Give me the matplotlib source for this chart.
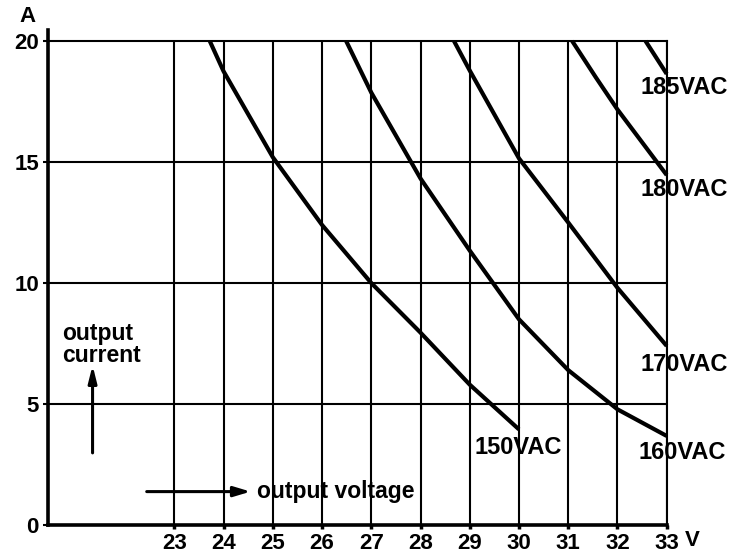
import matplotlib
matplotlib.use("Agg")
import matplotlib.pyplot as plt

plt.rcParams['font.family'] = ['Liberation Sans', 'DejaVu Sans']
plt.rcParams['font.weight'] = 'bold'

# Data (output voltage V -> output current A)
v150 = [23.72, 24.0, 25.0, 26.0, 27.0, 28.0, 29.0, 30.0]
a150 = [20.0, 18.75, 15.2, 12.4, 10.0, 7.95, 5.8, 3.95]

v160 = [26.49, 27.0, 28.0, 29.0, 30.0, 31.0, 32.0, 33.0]
a160 = [20.0, 17.87, 14.32, 11.34, 8.5, 6.4, 4.78, 3.68]

v170 = [28.68, 29.0, 30.0, 31.0, 32.0, 33.0]
a170 = [20.0, 18.78, 15.15, 12.5, 9.8, 7.4]

v180 = [31.08, 31.56, 32.0, 33.0]
a180 = [20.0, 18.5, 17.17, 14.46]

v185 = [32.57, 33.0]
a185 = [20.0, 18.64]

series_labels = ["150VAC", "160VAC", "170VAC", "180VAC", "185VAC"]
x_ticks = [23, 24, 25, 26, 27, 28, 29, 30, 31, 32, 33]
y_ticks = [0, 5, 10, 15, 20]

W, H = 737, 554
fig = plt.figure(figsize=(W / 100, H / 100), dpi=100)
left_px, right_px = 48, 666.7
bottom_px, top_px = 525, 41
ax = fig.add_axes([left_px / W, 1 - bottom_px / H,
                   (right_px - left_px) / W, (bottom_px - top_px) / H])

ax.set_xlim(20.435, 33)
ax.set_ylim(0, 20)

# grid
for x in x_ticks:
    ax.axvline(x, color='black', lw=1.5, zorder=1)
for y in y_ticks[1:-1]:
    ax.axhline(y, color='black', lw=1.5, zorder=1)

for v, a in [(v150, a150), (v160, a160), (v170, a170), (v180, a180), (v185, a185)]:
    ax.plot(v, a, color='black', lw=3.0, solid_capstyle='butt',
            solid_joinstyle='round', zorder=3, clip_on=False)

ax.set_xticks(x_ticks)
ax.set_yticks(y_ticks)
ax.set_xticklabels([str(t) for t in x_ticks], fontsize=16, fontweight='bold')
ax.set_yticklabels([str(t) for t in y_ticks], fontsize=16, fontweight='bold')
ax.tick_params(axis='x', direction='out', length=3, width=2.5, pad=2.5)
ax.tick_params(axis='y', direction='out', length=3.5, width=1.5, pad=3)

for s in ['left', 'bottom']:
    ax.spines[s].set_linewidth(2.6)
for s in ['top', 'right']:
    ax.spines[s].set_linewidth(1.5)
ax.spines['left'].set_bounds(0, 20.45)

# curve labels
lab_pos = {"150VAC": (29.09, 3.22), "160VAC": (32.43, 2.98), "170VAC": (32.47, 6.65),
           "180VAC": (32.47, 13.88), "185VAC": (32.47, 18.06)}
for lab in series_labels:
    x, y = lab_pos[lab]
    ax.text(x, y, lab, fontsize=17, fontweight='bold', ha='left', va='center',
            clip_on=False, zorder=4)

# axis annotations
ax.text(20.72, 8.38, "output\ncurrent", fontsize=16.5, fontweight='bold',
        ha='left', va='top', linespacing=0.92)
ax.annotate("", xy=(21.34, 6.6), xytext=(21.34, 2.98),
            arrowprops=dict(arrowstyle='-|>,head_length=1.0,head_width=0.25',
                            color='black', lw=2.2, shrinkA=0, shrinkB=0))
ax.annotate("", xy=(24.55, 1.38), xytext=(22.44, 1.38),
            arrowprops=dict(arrowstyle='-|>,head_length=1.0,head_width=0.3',
                            color='black', lw=2.2, shrinkA=0, shrinkB=0))
ax.text(24.67, 1.4, "output voltage", fontsize=16.5, fontweight='bold',
        ha='left', va='center')

fig.text(27 / W, 1 - 17 / H, "A", fontsize=16, fontweight='bold', ha='center', va='center')
fig.text(692 / W, 1 - 541 / H, "V", fontsize=16, fontweight='bold', ha='center', va='center')

fig.savefig("out.png", dpi=100)
